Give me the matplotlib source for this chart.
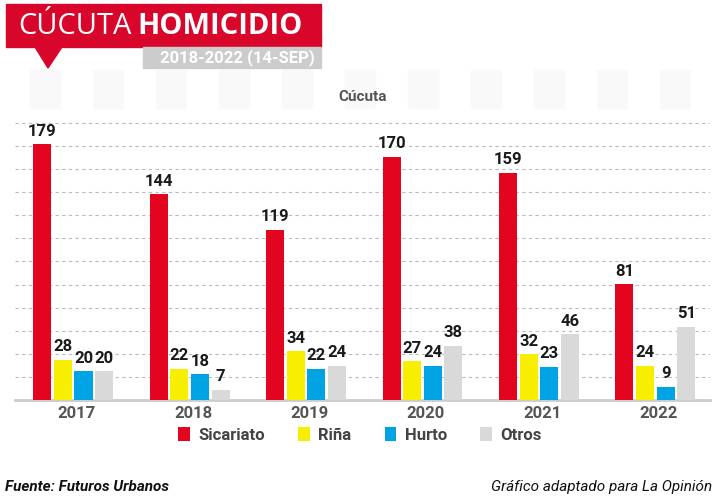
import matplotlib
matplotlib.use("Agg")
import matplotlib.pyplot as plt
from matplotlib.patches import Rectangle, Polygon
import numpy as np

years = ["2017", "2018", "2019", "2020", "2021", "2022"]
sicariato = [179, 144, 119, 170, 159, 81]
rina = [28, 22, 34, 27, 32, 24]
hurto = [20, 18, 22, 24, 23, 9]
otros = [20, 7, 24, 38, 46, 51]
series_names = ["Sicariato", "Riña", "Hurto", "Otros"]
colors = ["#e30520", "#f7ee00", "#00a3e4", "#d9d9d9"]

plt.rcParams['font.family'] = ['Roboto', 'DejaVu Sans']
fig = plt.figure(figsize=(7.2, 5), dpi=100)
W, H = 720, 500
def fx(x): return x / W
def fy(y): return 1 - y / H

# faint background stripes at top
for x0 in range(30, 720, 63):
    fig.patches.append(Rectangle((fx(x0), fy(108)), 30 / W, 38 / H, transform=fig.transFigure,
                                 color="#f9f9f9", zorder=-5))

ax = fig.add_axes([fx(15), fy(400), (710 - 15) / W, 300 / H])
ax.set_zorder(1)
ax.patch.set_alpha(0)
ax.set_xlim(-0.50, 5.47)
ax.set_ylim(0, 210)
x = np.arange(len(years))
w = 0.155
step = 0.177
for k, (vals, c) in enumerate(zip([sicariato, rina, hurto, otros], colors)):
    xs = x + (k - 1.5) * step
    ax.bar(xs, vals, width=w, color=c, zorder=3, label=series_names[k])
    for xi, v in zip(xs, vals):
        ax.text(xi, v + 4, str(v), ha="center", va="bottom", fontsize=12, fontweight="bold",
                color="#1a1a1a", zorder=4)
for gy in np.arange(16, 210, 16.2):
    ax.axhline(gy, color="#bbbbbb", lw=0.8, ls=(0, (3, 3)), zorder=1)
for s in ["top", "right", "left"]:
    ax.spines[s].set_visible(False)
ax.spines["bottom"].set_color("#cccccc")
ax.spines["bottom"].set_linewidth(2)
ax.set_yticks([])
ax.set_xticks(x + 0.03)
ax.set_xticklabels(years, fontsize=12, fontweight="bold", color="#555555")
ax.tick_params(axis="x", length=0, pad=4)
ax.text(0.5, 1.01, "Cúcuta", transform=ax.transAxes, ha="center", va="center",
        fontsize=11, fontweight="bold", color="#555555")

leg = fig.legend(loc="center", bbox_to_anchor=(0.5, fy(435)), ncol=4, frameon=False,
                 fontsize=12, handlelength=0.7, handleheight=0.9, columnspacing=2.0,
                 handletextpad=0.5)
for t in leg.get_texts():
    t.set_color("#444444"); t.set_fontweight("bold")

# title banner
fig.patches.append(Rectangle((fx(6), fy(47)), 315 / W, 43 / H, transform=fig.transFigure,
                             color="#d8062a", zorder=5))
fig.patches.append(Polygon([[fx(35), fy(47)], [fx(62), fy(47)], [fx(48), fy(68)]],
                           closed=True, transform=fig.transFigure, color="#d8062a", zorder=5))
fig.patches.append(Rectangle((fx(143), fy(68)), 178 / W, 21 / H, transform=fig.transFigure,
                             color="#cccccc", zorder=5))
fig.text(fx(18), fy(27), "CÚCUTA", fontsize=21, color="white", va="center", zorder=6,
         family=["Open Sans", "DejaVu Sans"])
fig.text(fx(137), fy(27), "HOMICIDIO", fontsize=21, color="white", va="center",
         fontweight="bold", zorder=6, family=["Open Sans", "DejaVu Sans"])
fig.text(fx(315), fy(58), "2018-2022 (14-SEP)", fontsize=12, color="white", va="center",
         ha="right", fontweight="bold", zorder=6)

fig.text(fx(5), fy(487), "Fuente: Futuros Urbanos", fontsize=11, fontstyle="italic",
         fontweight="bold", va="center", color="#111111")
fig.text(fx(712), fy(487), "Gráfico adaptado para La Opinión", fontsize=11, fontstyle="italic",
         va="center", ha="right", color="#111111")

fig.savefig("out.png", dpi=100)
